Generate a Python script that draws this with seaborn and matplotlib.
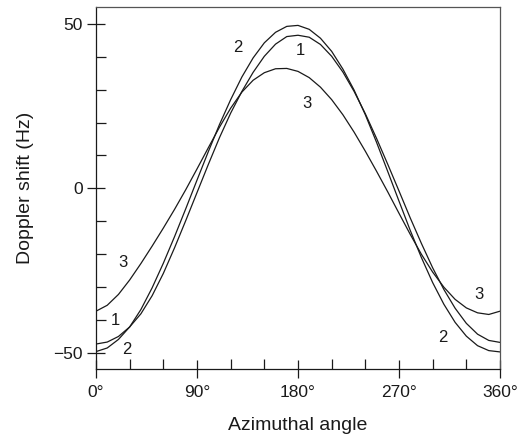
import matplotlib
matplotlib.use("Agg")
import matplotlib.pyplot as plt
from matplotlib.ticker import MultipleLocator, FixedLocator
import seaborn as sns
import pandas as pd

# Azimuthal angle (degrees)
angle = [0, 10, 20, 30, 40, 50, 60, 70, 80, 90, 100, 110, 120, 130, 140, 150, 160, 170, 180,
         190, 200, 210, 220, 230, 240, 250, 260, 270, 280, 290, 300, 310, 320, 330, 340, 350, 360]

# Doppler shift (Hz) for the three curves
curve1 = [-47.4, -46.8, -45.1, -42.2, -38.2, -32.7, -25.9, -18.1, -9.8, -1.3, 7.2, 15.4, 22.9,
          29.5, 35.3, 40.2, 43.9, 46.2, 46.6, 46.0, 43.8, 40.2, 35.4, 29.5, 22.7, 15.2, 7.3,
          -0.8, -9.0, -16.8, -24.2, -30.8, -36.5, -41.1, -44.4, -46.3, -46.9]
curve2 = [-49.7, -48.6, -46.0, -42.2, -36.9, -30.3, -22.8, -14.7, -6.2, 2.5, 11.1, 19.4, 27.0,
          33.9, 39.7, 44.3, 47.5, 49.3, 49.6, 48.4, 45.7, 41.7, 36.3, 29.9, 22.4, 14.0, 5.1,
          -3.9, -12.8, -21.1, -28.7, -35.3, -40.8, -45.0, -47.9, -49.4, -49.8]
curve3 = [-37.4, -35.6, -32.3, -27.9, -22.9, -17.6, -12.1, -6.4, -0.4, 5.9, 12.3, 18.6, 24.4,
          29.3, 32.9, 35.2, 36.4, 36.5, 35.6, 33.7, 30.8, 27.0, 22.4, 17.1, 11.3, 5.2, -1.1,
          -7.6, -14.0, -20.1, -25.5, -30.1, -33.8, -36.4, -37.9, -38.4, -37.4]

# Curve labels: (text, angle, value)
label_text = ["2", "1", "3", "3", "1", "2", "3", "2"]
label_x = [126.5, 181.8, 187.7, 24.3, 16.9, 27.3, 341.6, 309.0]
label_y = [43.0, 42.0, 25.8, -22.5, -40.2, -49.2, -32.3, -45.3]

x_ticks = [0, 90, 180, 270, 360]
x_ticklabels = ["0°", "90°", "180°", "270°", "360°"]
y_ticks = [-50, 0, 50]

sns.set_theme(style="white")
plt.rcParams["font.family"] = ["Liberation Sans", "DejaVu Sans"]

df = pd.DataFrame({
    "angle": angle * 3,
    "shift": curve1 + curve2 + curve3,
    "curve": ["1"] * len(angle) + ["2"] * len(angle) + ["3"] * len(angle),
})

fig = plt.figure(figsize=(5.18, 4.36), dpi=100)
ax = fig.add_axes([96 / 518, 1 - 369 / 436, 404 / 518, 362 / 436])

sns.lineplot(data=df, x="angle", y="shift", units="curve", estimator=None,
             color="#1a1a1a", linewidth=0.9, ax=ax, legend=False)

for t, xx, yy in zip(label_text, label_x, label_y):
    ax.text(xx, yy, t, fontsize=12, ha="center", va="center", color="#1a1a1a")

ax.set_xlim(0, 360)
ax.set_ylim(-55, 55.2)
ax.xaxis.set_major_locator(FixedLocator(x_ticks))
ax.set_xticklabels(x_ticklabels)
ax.xaxis.set_minor_locator(MultipleLocator(30))
ax.yaxis.set_major_locator(FixedLocator(y_ticks))
ax.yaxis.set_minor_locator(MultipleLocator(10))

ax.tick_params(axis="both", which="major", direction="inout", length=13, width=0.9,
               color="#1a1a1a", labelsize=12.5, labelcolor="#1a1a1a")
ax.tick_params(axis="x", which="major", pad=5, bottom=True, top=False)
ax.tick_params(axis="y", which="major", pad=3, left=True, right=False)
ax.tick_params(axis="both", which="minor", direction="in", length=7, width=0.9,
               color="#1a1a1a", bottom=True, left=True, top=False, right=False)

for side in ["left", "bottom"]:
    ax.spines[side].set_color("#1a1a1a")
    ax.spines[side].set_linewidth(0.9)
for side in ["top", "right"]:
    ax.spines[side].set_color("#555555")
    ax.spines[side].set_linewidth(0.9)

ax.set_xlabel("Azimuthal angle", fontsize=14, color="#1a1a1a", labelpad=12)
ax.set_ylabel("Doppler shift (Hz)", fontsize=14, color="#1a1a1a", labelpad=14)

fig.savefig("out.png", dpi=100)
